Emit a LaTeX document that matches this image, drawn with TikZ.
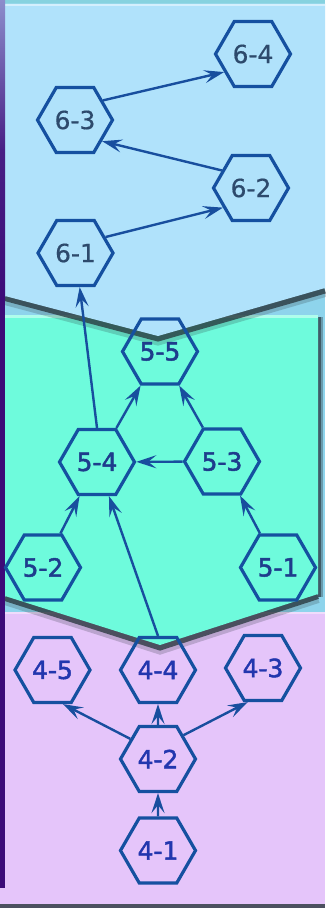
\documentclass[tikz,border=0pt]{standalone}
\usepackage{fontspec}
\setmainfont{DejaVu Sans}
\newfontfamily\semib[FakeBold=1.8]{DejaVu Sans}
\newfontfamily\regl[FakeBold=0.5]{DejaVu Sans}
\usetikzlibrary{shapes.geometric,arrows.meta}
\definecolor{bgblue}{HTML}{8ED4EC}
\definecolor{topstrip}{HTML}{86D2DF}
\definecolor{panelblue}{HTML}{B0E2FB}
\definecolor{panelgreen}{HTML}{6EFBDC}
\definecolor{panellilac}{HTML}{E5C5FA}
\definecolor{bartop}{HTML}{8C8ECC}
\definecolor{barbot}{HTML}{3C0B78}
\definecolor{hexborder}{HTML}{1550A0}
\definecolor{edgecol}{HTML}{184E9E}
\definecolor{textsix}{HTML}{2D4A6C}
\definecolor{textfive}{HTML}{1E3C8C}
\definecolor{textfour}{HTML}{2236AE}
\definecolor{shadowcol}{HTML}{26333A}
\tikzset{
  hexnode/.style={draw=hexborder, line width=3.2pt, regular polygon, regular polygon sides=6,
    minimum size=75pt, inner sep=0pt},
  sixnode/.style={hexnode, text=textsix, font=\fontsize{25}{25}\selectfont\regl},
  fivenode/.style={hexnode, text=textfive, font=\fontsize{25}{25}\selectfont\semib},
  fournode/.style={hexnode, text=textfour, font=\fontsize{25}{25}\selectfont\semib},
  link/.style={draw=edgecol, line width=2.4pt, -{Stealth[length=20pt,width=13pt,inset=8pt]}},
  shadowline/.style={draw=shadowcol, line join=miter}
}
\begin{document}
\begin{tikzpicture}[x=1pt,y=-1pt]
\useasboundingbox (0,0) rectangle (325,908);
% background
\fill[bgblue] (0,0) rectangle (325,908);
\fill[topstrip] (0,0) rectangle (325,3.5);
% lilac panel
\fill[panellilac] (0,612) rectangle (325,904);
\fill[panellilac!60!white] (5,612) rectangle (325,614);
\fill[shadowcol!80!panellilac] (0,904) rectangle (325,908);
% green panel
\fill[shadowcol, opacity=0.35] (318,317) rectangle (323,597);
\fill[shadowcol, opacity=0.6] (318,317) rectangle (321,597);
\draw[shadowline, line width=10pt, opacity=0.22] (5,600) -- (160,649.5) -- (318,598);
\draw[shadowline, line width=6pt, opacity=0.75] (5,598) -- (160,647.5) -- (318,596);
\fill[panelgreen] (5,315) -- (318,315) -- (318,594) -- (160,645) -- (5,596) -- cycle;
\fill[panelgreen!55!white] (5,315) rectangle (318,317.5);
% blue panel
\draw[shadowline, line width=10pt, opacity=0.22] (5,300) -- (158,340.5) -- (325,292);
\draw[shadowline, line width=6pt, opacity=0.75] (5,298) -- (158,338.5) -- (325,290.5);
\fill[panelblue] (5,3.5) -- (325,3.5) -- (325,288) -- (158,336) -- (5,296) -- cycle;
\fill[panelblue!55!white] (5,3.5) rectangle (325,6);
% left bar
\shade[top color=bartop, bottom color=barbot, middle color=barbot!85!bartop] (0,0) rectangle (5,300);
\fill[barbot] (0,300) rectangle (5,888);
% nodes
\node[sixnode] (n64) at (253,54) {6-4};
\node[sixnode] (n63) at (75,120) {6-3};
\node[sixnode] (n62) at (251,188) {6-2};
\node[sixnode] (n61) at (75.5,253) {6-1};
\node[fivenode] (n55) at (160,351.5) {5-5};
\node[fivenode] (n54) at (97,462) {5-4};
\node[fivenode] (n53) at (222,461.5) {5-3};
\node[fivenode] (n52) at (43,567.5) {5-2};
\node[fivenode] (n51) at (278,567.5) {5-1};
\node[fournode] (n45) at (52.5,670) {4-5};
\node[fournode] (n44) at (158,670) {4-4};
\node[fournode] (n43) at (263,668) {4-3};
\node[fournode] (n42) at (158,759) {4-2};
\node[fournode] (n41) at (158,850.5) {4-1};
% edges
\draw[link] (n63.35) -- (n64.212);
\draw[link] (n62.149) -- (n63.-38);
\draw[link] (n61.28) -- (n62.215);
\draw[link] (n54.north) -- (n61);
\draw[link] (n54) -- (n55);
\draw[link] (n53) -- (n55);
\draw[link] (n53) -- (n54);
\draw[link] (n52) -- (n54);
\draw[link] (n51) -- (n53);
\draw[link] (n44.north) -- (n54);
\draw[link] (n42.144) -- (n45.-73);
\draw[link] (n42) -- (n44);
\draw[link] (n42.43) -- (n43.-114);
\draw[link] (n41) -- (n42);
\end{tikzpicture}
\end{document}
